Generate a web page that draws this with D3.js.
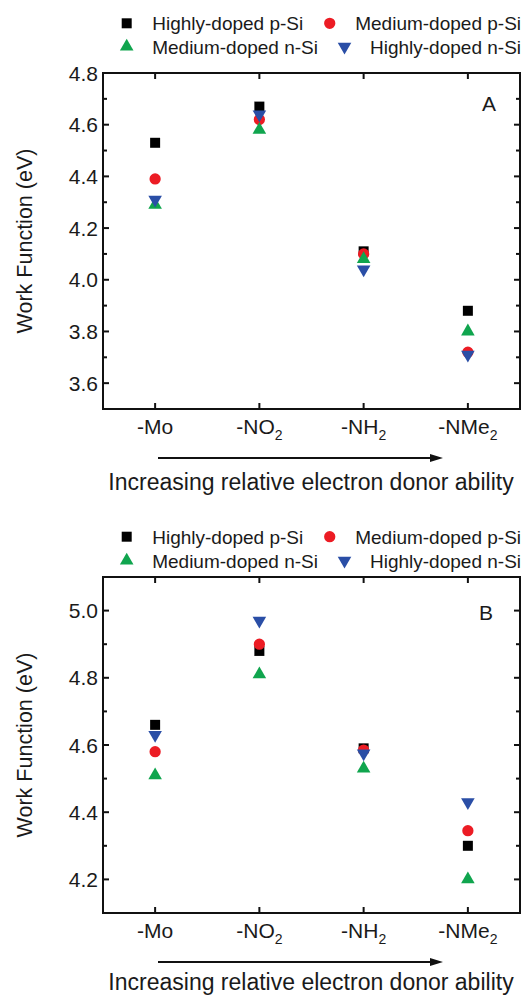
<!DOCTYPE html>
<html><head><meta charset="utf-8">
<script src="https://cdn.jsdelivr.net/npm/d3@7"></script>
<style>
html,body{margin:0;padding:0;background:#fff;}
svg{display:block;font-family:"Liberation Sans",Arial,Helvetica,sans-serif;}
</style></head>
<body>
<svg id="chart" width="523" height="996"></svg>
<script>
// ---------- data ----------
const categoryBase = ["-Mo", "-NO", "-NH", "-NMe"];
const categorySub  = ["", "2", "2", "2"];
const seriesNames = ["Highly-doped p-Si", "Medium-doped p-Si", "Medium-doped n-Si", "Highly-doped n-Si"];
const seriesColors = ["#000000", "#ec1c24", "#10a54e", "#2a4ea6"];
const seriesSymbols = ["square", "circle", "triangleUp", "triangleDown"];

const panelA_highP = [4.53, 4.67, 4.11, 3.88];
const panelA_medP  = [4.39, 4.62, 4.10, 3.72];
const panelA_medN  = [4.29, 4.58, 4.08, 3.80];
const panelA_highN = [4.31, 4.64, 4.04, 3.71];
const panelA_yTicks = [3.6, 3.8, 4.0, 4.2, 4.4, 4.6, 4.8];
const panelA_yDomain = [3.5, 4.8];

const panelB_highP = [4.66, 4.88, 4.59, 4.30];
const panelB_medP  = [4.58, 4.90, 4.585, 4.345];
const panelB_medN  = [4.51, 4.81, 4.53, 4.20];
const panelB_highN = [4.63, 4.97, 4.575, 4.43];
const panelB_yTicks = [4.2, 4.4, 4.6, 4.8, 5.0];
const panelB_yDomain = [4.1, 5.1];

const yLabel = "Work Function (eV)";
const xTitle = "Increasing relative electron donor ability";

// ---------- drawing ----------
const svg = d3.select("#chart");

function symbolPath(kind) {
  if (kind === "square") return d3.symbol(d3.symbolSquare, 100)();
  if (kind === "circle") return d3.symbol(d3.symbolCircle, 100)();
  return d3.symbol(d3.symbolTriangle, 80)();
}

function drawPanel(opt) {
  const g = svg.append("g");
  const left = 103, right = 520, top = opt.top, bottom = opt.bottom;
  const x = d3.scaleLinear().domain([0.5, categoryBase.length + 0.5]).range([left, right]);
  const y = d3.scaleLinear().domain(opt.yDomain).range([bottom, top]);
  const idx = d3.range(categoryBase.length);

  // legend
  const lg = g.append("g");
  const rows = [[0, 1], [2, 3]];
  rows.forEach((row, r) => {
    let cx = 126.7;
    const cy = opt.legendY + r * opt.legendDy;
    row.forEach((si, k) => {
      const sx = k === 0 ? cx : cx + 26.5;
      lg.append("path")
        .attr("d", symbolPath(seriesSymbols[si]))
        .attr("transform", `translate(${sx},${cy})` + (seriesSymbols[si] === "triangleDown" ? " rotate(180)" : ""))
        .attr("fill", seriesColors[si]);
      const t = lg.append("text")
        .attr("x", sx + 25.5).attr("y", cy).attr("dy", "0.36em")
        .attr("font-size", 19).attr("fill", "#1a1a1a")
        .text(seriesNames[si]);
      cx = sx + 25.5 + t.node().getComputedTextLength();
    });
  });

  // ticks (inward)
  const axes = g.append("g").attr("stroke", "#111").attr("stroke-width", 2);
  const minor = d3.range(Math.round(opt.yDomain[0] * 10) + 1, Math.round(opt.yDomain[1] * 10)).map(v => v / 10);
  minor.forEach(v => {
    const major = opt.yTicks.some(t => Math.abs(t - v) < 1e-6);
    const len = major ? 6 : 4;
    axes.append("line").attr("x1", left).attr("x2", left + len).attr("y1", y(v)).attr("y2", y(v));
    axes.append("line").attr("x1", right).attr("x2", right - len).attr("y1", y(v)).attr("y2", y(v));
  });
  idx.forEach(i => {
    axes.append("line").attr("x1", x(i + 1)).attr("x2", x(i + 1)).attr("y1", bottom).attr("y2", bottom - 6);
    axes.append("line").attr("x1", x(i + 1)).attr("x2", x(i + 1)).attr("y1", top).attr("y2", top + 6);
  });
  g.append("rect").attr("x", left).attr("y", top).attr("width", right - left).attr("height", bottom - top)
    .attr("fill", "none").attr("stroke", "#111").attr("stroke-width", 2);

  // y tick labels
  opt.yTicks.forEach(v => {
    g.append("text").attr("x", left - 5).attr("y", y(v)).attr("dy", "0.36em")
      .attr("text-anchor", "end").attr("font-size", 21).attr("fill", "#1a1a1a")
      .text(d3.format(".1f")(v));
  });

  // x tick labels with subscripts
  idx.forEach(i => {
    const t = g.append("text").attr("x", x(i + 1)).attr("y", bottom + 25)
      .attr("text-anchor", "middle").attr("font-size", 21).attr("fill", "#1a1a1a");
    t.append("tspan").text(categoryBase[i]);
    if (categorySub[i]) t.append("tspan").attr("font-size", 14).attr("dy", 6).text(categorySub[i]);
  });

  // y label
  g.append("text").attr("transform", `translate(32,${(top + bottom) / 2}) rotate(-90)`)
    .attr("text-anchor", "middle").attr("font-size", 21.5).attr("fill", "#1a1a1a").text(yLabel);

  // panel letter
  g.append("text").attr("x", opt.letterX).attr("y", top + opt.letterDy).attr("dy", "0.36em")
    .attr("text-anchor", "middle").attr("font-size", 21).attr("fill", "#1a1a1a").text(opt.letter);

  // arrow
  const ay = bottom + 49;
  g.append("line").attr("x1", 158).attr("x2", 432).attr("y1", ay).attr("y2", ay)
    .attr("stroke", "#111").attr("stroke-width", 2);
  g.append("path").attr("d", `M443,${ay} L430,${ay - 4} L430,${ay + 4} Z`).attr("fill", "#111");

  // x title
  g.append("text").attr("x", 311).attr("y", bottom + opt.titleDy).attr("dy", "0.36em")
    .attr("text-anchor", "middle").attr("font-size", 23).attr("fill", "#1a1a1a").text(xTitle);

  // points
  const marks = g.append("g");
  opt.series.forEach((vals, si) => {
    marks.selectAll(null).data(vals).join("path")
      .attr("d", symbolPath(seriesSymbols[si]))
      .attr("transform", (d, i) => `translate(${x(i + 1)},${y(d)})` + (seriesSymbols[si] === "triangleDown" ? " rotate(180)" : ""))
      .attr("fill", seriesColors[si]);
  });
}

drawPanel({
  top: 73, bottom: 409, yDomain: panelA_yDomain, yTicks: panelA_yTicks,
  series: [panelA_highP, panelA_medP, panelA_medN, panelA_highN],
  legendY: 23.3, legendDy: 23.4, letter: "A", letterX: 489, letterDy: 30, titleDy: 72.5
});
drawPanel({
  top: 577, bottom: 913, yDomain: panelB_yDomain, yTicks: panelB_yTicks,
  series: [panelB_highP, panelB_medP, panelB_medN, panelB_highN],
  legendY: 536.7, legendDy: 24, letter: "B", letterX: 486, letterDy: 35, titleDy: 68.5
});
</script>
</body></html>
